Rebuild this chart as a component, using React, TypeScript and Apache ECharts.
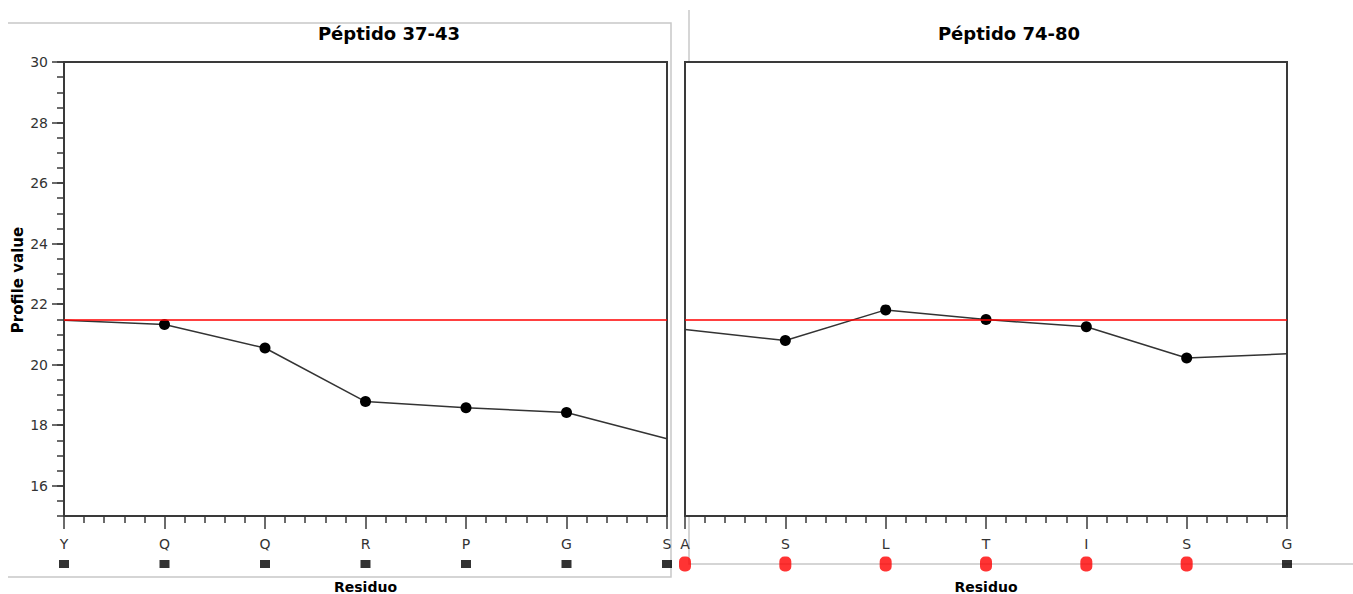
import React, { useEffect, useRef } from 'react';
import * as echarts from 'echarts';

const leftResidues = ['Y', 'Q', 'Q', 'R', 'P', 'G', 'S'];
const leftValues = [21.47, 21.33, 20.55, 18.78, 18.58, 18.42, 17.55];
const rightResidues = ['A', 'S', 'L', 'T', 'I', 'S', 'G'];
const rightValues = [21.16, 20.8, 21.81, 21.49, 21.25, 20.22, 20.36];
const threshold = 21.5;
const leftFlags = [0, 0, 0, 0, 0, 0, 0];
const rightFlags = [1, 1, 1, 1, 1, 1, 0];
const yTicks = [16, 18, 20, 22, 24, 26, 28, 30];
const titles = ['Péptido 37-43', 'Péptido 74-80'];

const FONT = 'DejaVu Sans';
const AX = '#3a3a3a';
const PILL = 'path://M5,0 h2 a5,5 0 0 1 5,5 v5 a5,5 0 0 1 -5,5 h-2 a5,5 0 0 1 -5,-5 v-5 a5,5 0 0 1 5,-5 z';

function xAxisFor(grid: number, names: string[]) {
  return {
    gridIndex: grid,
    type: 'value',
    min: 0,
    max: names.length - 1,
    interval: 1,
    axisLine: { show: true, lineStyle: { color: AX, width: 2 } },
    axisTick: { show: true, length: 13, lineStyle: { color: AX, width: 1.5 } },
    minorTick: { show: true, splitNumber: 5, length: 7, lineStyle: { color: AX, width: 1.5 } },
    minorSplitLine: { show: false },
    splitLine: { show: false },
    axisLabel: {
      formatter: (v: number) => names[Math.round(v)] ?? '',
      margin: 21,
      fontSize: 14,
      color: '#333',
      fontFamily: FONT,
      showMinLabel: true,
      showMaxLabel: true,
    },
    name: 'Residuo',
    nameLocation: 'middle',
    nameGap: 64,
    nameTextStyle: { fontSize: 14, fontWeight: 'bold', color: '#000', fontFamily: FONT },
  };
}

function lineSeries(values: number[], xi: number, yi: number) {
  const n = values.length;
  return {
    type: 'line',
    xAxisIndex: xi,
    yAxisIndex: yi,
    data: values.map((v, i) => ({ value: [i, v], symbol: i === 0 || i === n - 1 ? 'none' : 'circle' })),
    symbolSize: 11,
    lineStyle: { color: '#333', width: 1.5 },
    itemStyle: { color: '#000' },
    markLine: {
      silent: true,
      symbol: 'none',
      label: { show: false },
      lineStyle: { color: '#ff0000', width: 1.5, type: 'solid' },
      data: [{ yAxis: threshold }],
    },
  };
}

function markerSeries(flags: number[], xi: number, yi: number) {
  return {
    type: 'scatter',
    xAxisIndex: xi,
    yAxisIndex: yi,
    clip: false,
    data: flags.map((f, i) => ({
      value: [i, 0],
      symbol: f ? PILL : 'rect',
      symbolSize: f ? [12, 15] : [10, 8],
      itemStyle: { color: f ? '#ff0000' : '#000' },
    })),
  };
}

export default function App() {
  const ref = useRef<HTMLDivElement>(null);
  useEffect(() => {
    if (!ref.current) return;
    const chart = echarts.init(ref.current, null, { renderer: 'svg' });
    const gridBase = { outerBoundsMode: 'none', containLabel: false };
    const option: any = {
      animation: false,
      backgroundColor: '#fff',
      textStyle: { fontFamily: FONT },
      title: [
        { text: titles[0], left: 384, top: 19, textAlign: 'center', textStyle: { fontSize: 18, fontWeight: 'bold', color: '#000', fontFamily: FONT } },
        { text: titles[1], left: 1004, top: 19, textAlign: 'center', textStyle: { fontSize: 18, fontWeight: 'bold', color: '#000', fontFamily: FONT } },
      ],
      graphic: [
        { type: 'polyline', shape: { points: [[8, 23], [671, 23], [671, 577], [8, 577]] }, style: { stroke: '#c8c8c8', lineWidth: 1.5, fill: null }, z: -1 },
        { type: 'line', shape: { x1: 689, y1: 10, x2: 689, y2: 62 }, style: { stroke: '#c8c8c8', lineWidth: 1.5 }, z: -1 },
        { type: 'polyline', shape: { points: [[689, 517], [689, 564], [1353, 564]] }, style: { stroke: '#c8c8c8', lineWidth: 1.5, fill: null }, z: -1 },
      ],
      grid: [
        { ...gridBase, left: 64, top: 62, width: 603, height: 454, show: true, borderColor: AX, borderWidth: 2 },
        { ...gridBase, left: 685, top: 62, width: 602, height: 454, show: true, borderColor: AX, borderWidth: 2 },
        { ...gridBase, left: 64, top: 559, width: 603, height: 10 },
        { ...gridBase, left: 685, top: 559, width: 602, height: 10 },
      ],
      xAxis: [
        xAxisFor(0, leftResidues),
        xAxisFor(1, rightResidues),
        { gridIndex: 2, type: 'value', min: 0, max: 6, show: false },
        { gridIndex: 3, type: 'value', min: 0, max: 6, show: false },
      ],
      yAxis: [
        {
          gridIndex: 0,
          type: 'value',
          position: 'left',
          min: 15,
          max: 30,
          axisLine: { show: true, lineStyle: { color: AX, width: 2 } },
          axisTick: { show: true, length: 12, customValues: yTicks, lineStyle: { color: AX, width: 1.5 } },
          axisLabel: { customValues: yTicks, margin: 16, fontSize: 14, color: '#333', fontFamily: FONT },
          splitLine: { show: false },
          name: 'Profile value',
          nameLocation: 'middle',
          nameGap: 39,
          nameTextStyle: { fontSize: 15, fontWeight: 'bold', color: '#000', fontFamily: FONT, padding: [0, 0, 0, 18] },
        },
        {
          gridIndex: 0,
          type: 'value',
          position: 'left',
          offset: 0,
          min: 15,
          max: 30,
          interval: 0.5,
          axisLine: { show: false },
          axisTick: { show: true, length: 7, lineStyle: { color: AX, width: 1.5 } },
          axisLabel: { show: false },
          splitLine: { show: false },
        },
        {
          gridIndex: 1,
          type: 'value',
          min: 15,
          max: 30,
          axisLine: { show: true, lineStyle: { color: AX, width: 2 } },
          axisTick: { show: false },
          axisLabel: { show: false },
          splitLine: { show: false },
        },
        { gridIndex: 2, type: 'value', min: -1, max: 1, show: false },
        { gridIndex: 3, type: 'value', min: -1, max: 1, show: false },
      ],
      series: [
        lineSeries(leftValues, 0, 0),
        lineSeries(rightValues, 1, 2),
        markerSeries(leftFlags, 2, 3),
        markerSeries(rightFlags, 3, 4),
      ],
    };
    chart.setOption(option);
    return () => chart.dispose();
  }, []);
  return <div ref={ref} style={{ position: 'fixed', left: 0, top: 0, width: 1353, height: 594 }} />;
}
